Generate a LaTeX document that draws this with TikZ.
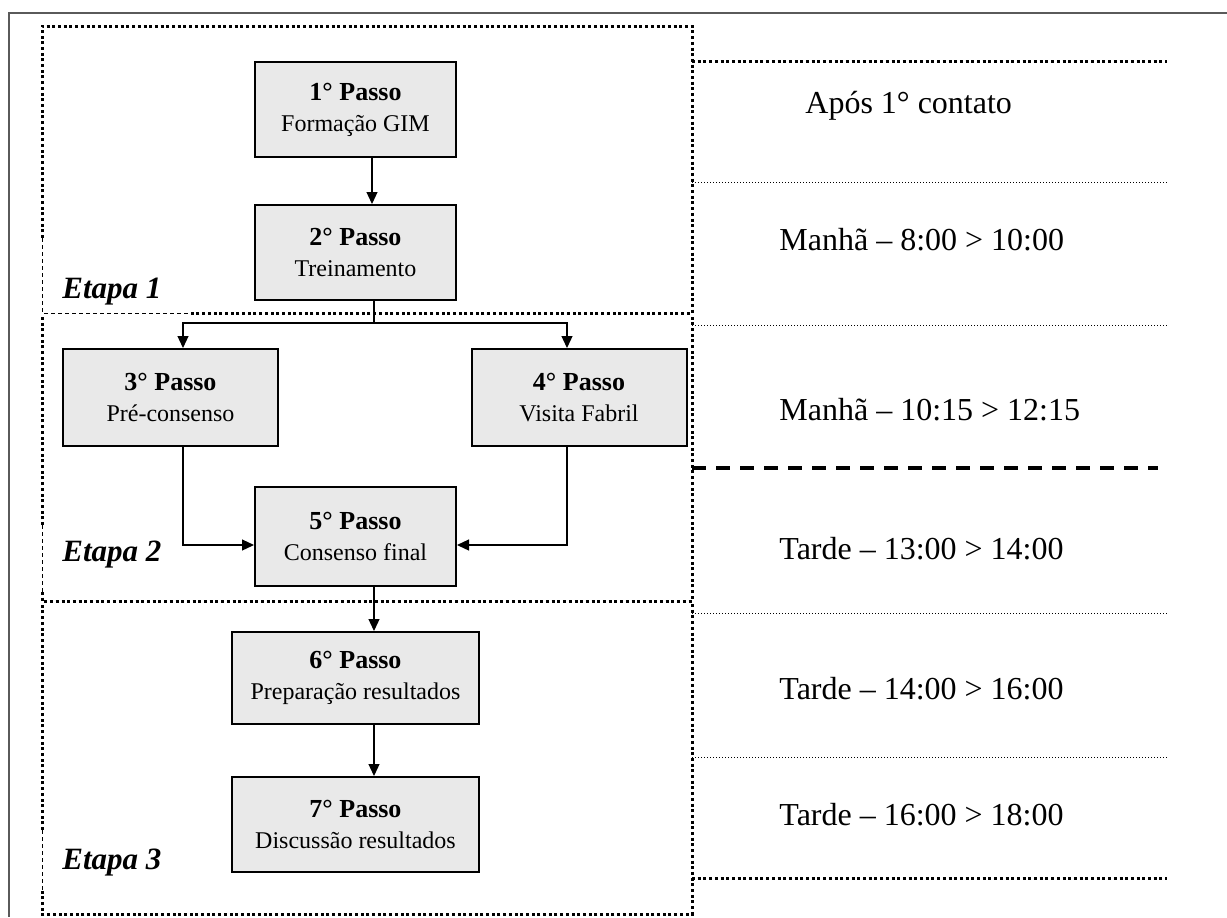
\documentclass[tikz,border=0pt]{standalone}
\usepackage{fontspec}
\setmainfont{Liberation Serif}
\usetikzlibrary{arrows.meta}
\definecolor{boxgray}{RGB}{233,233,233}
\definecolor{framegray}{RGB}{90,90,90}
\newcommand{\passohead}[1]{{\fontsize{13}{15}\selectfont\bfseries #1}}
\begin{document}
\begin{tikzpicture}[x=0.5pt,y=-0.5pt,
  passo/.style={draw,line width=1pt,fill=boxgray,align=center,
    font=\fontsize{12}{15.5}\selectfont,inner sep=0pt},
  etapalabel/.style={anchor=west,inner sep=0pt,
    font=\fontsize{15.5}{18}\selectfont\bfseries\itshape},
  horario/.style={anchor=west,inner sep=0pt,font=\fontsize{16}{19}\selectfont},
  bigdots/.style={line width=1.5pt,dash pattern=on 1.5pt off 1.35pt},
  smalldots/.style={line width=0.5pt,dash pattern=on 0.5pt off 1pt},
  thindash/.style={line width=0.5pt,dash pattern=on 2pt off 1.5pt},
  thickdash/.style={line width=2pt,dash pattern=on 7pt off 5pt},
  flow/.style={line width=0.6pt,-{Triangle[length=6pt,width=5.5pt]}},
  link/.style={line width=0.6pt}]

\useasboundingbox (0,0) rectangle (1227,917);

% outer frame (only its top and left sides lie on the page)
\draw[framegray,line width=0.8pt] (1227,13) -- (9,13) -- (9,917);

% ---- stage frames ----
% Etapa 1
\draw[bigdots] (42,238) -- (42,26) -- (692,26) -- (692,313) -- (188,313);
\draw[thindash] (42,238) -- (42,313) -- (188,313);
% Etapa 2
\draw[bigdots] (42,525) -- (42,316);
\draw[thindash] (42,525) -- (42,592);
\draw[bigdots] (42,592) -- (42,601) -- (692,601) -- (692,316);
% Etapa 3
\draw[bigdots] (42,830) -- (42,604);
\draw[bigdots] (692,604) -- (692,914) -- (42,914) -- (42,890);
\draw[thindash] (42,830) -- (42,890);

% ---- schedule separators ----
\coordinate (s0a) at (692,61);  \coordinate (s0b) at (1167,61);
\coordinate (s1a) at (692,182); \coordinate (s1b) at (1167,182);
\coordinate (s2a) at (692,325); \coordinate (s2b) at (1167,325);
\coordinate (s3a) at (692,468); \coordinate (s3b) at (1158,468);
\coordinate (s4a) at (692,613); \coordinate (s4b) at (1167,613);
\coordinate (s5a) at (692,757); \coordinate (s5b) at (1167,757);
\coordinate (s6a) at (692,878); \coordinate (s6b) at (1167,878);
\draw[bigdots] (s0a) -- (s0b);
\draw[smalldots] (s1a) -- (s1b);
\draw[smalldots] (s2a) -- (s2b);
\draw[thickdash] (s3a) -- (s3b);
\draw[smalldots] (s4a) -- (s4b);
\draw[smalldots] (s5a) -- (s5b);
\draw[bigdots] (s6a) -- (s6b);

% ---- schedule texts ----
\node[horario] (h0) at (805,106) {Após 1° contato};
\node[horario] (h1) at (779,240) {Manhã – 8:00 > 10:00};
\node[horario] (h2) at (779,410) {Manhã – 10:15 > 12:15};
\node[horario] (h3) at (779,549) {Tarde – 13:00 > 14:00};
\node[horario] (h4) at (779,689) {Tarde – 14:00 > 16:00};
\node[horario] (h5) at (779,815) {Tarde – 16:00 > 18:00};

% ---- stage labels ----
\node[etapalabel] (e1) at (62,292) {Etapa 1};
\node[etapalabel] (e2) at (62,555) {Etapa 2};
\node[etapalabel] (e3) at (62,863) {Etapa 3};

% ---- steps ----
\node[passo,minimum width=100.5pt,minimum height=47.5pt] (p1) at (355.5,109.5)
  {\passohead{1° Passo}\\Formação GIM};
\node[passo,minimum width=100.5pt,minimum height=47.5pt] (p2) at (355.5,252.5)
  {\passohead{2° Passo}\\Treinamento};
\node[passo,minimum width=107.5pt,minimum height=48.5pt] (p3) at (170.5,397.5)
  {\passohead{3° Passo}\\Pré-consenso};
\node[passo,minimum width=107.5pt,minimum height=48.5pt] (p4) at (579,397.5)
  {\passohead{4° Passo}\\Visita Fabril};
\node[passo,minimum width=100.5pt,minimum height=49.5pt] (p5) at (355.5,536.5)
  {\passohead{5° Passo}\\Consenso final};
\node[passo,minimum width=123.5pt,minimum height=46pt] (p6) at (355.5,678)
  {\passohead{6° Passo}\\Preparação resultados};
\node[passo,minimum width=123.5pt,minimum height=47.5pt] (p7) at (355.5,824.5)
  {\passohead{7° Passo}\\Discussão resultados};

% ---- connectors ----
\coordinate (split) at (374,323);
\draw[flow] (p1.south -| 372,0) -- (p2.north -| 372,0);
\draw[link] (p2.south -| split) -- (split);
\draw[flow] (split) -| (p3.north -| 183,0);
\draw[flow] (split) -| (p4.north -| 567,0);
\draw[flow] (p3.south -| 183,0) |- (p5.west |- 0,545);
\draw[flow] (p4.south -| 567,0) |- (p5.east |- 0,545);
\draw[flow] (p5.south -| 374,0) -- (p6.north -| 374,0);
\draw[flow] (p6.south -| 374,0) -- (p7.north -| 374,0);
\end{tikzpicture}
\end{document}
